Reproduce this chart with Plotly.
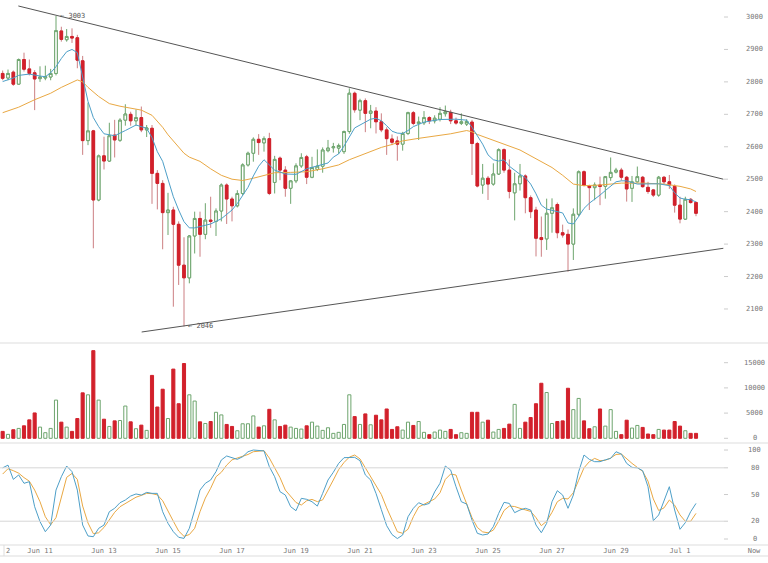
import pandas as pd
import plotly.graph_objects as go

# ---------------- data (4-hour candles, BTC, Jun 9 20:00 -> Jul 1 12:00, 2017) ----------------
START = "2017-06-09 20:00"
STEP_HOURS = 4

opens = [2826, 2812, 2830, 2793, 2869, 2840, 2828, 2810, 2812, 2815,
         2826, 2957, 2930, 2940, 2936, 2865, 2619, 2649, 2436, 2572,
         2556, 2636, 2620, 2682, 2700, 2680, 2690, 2652, 2657, 2518,
         2487, 2397, 2405, 2361, 2235, 2196, 2325, 2379, 2330, 2374,
         2370, 2402, 2482, 2439, 2418, 2456, 2544, 2580, 2623, 2612,
         2625, 2490, 2565, 2528, 2472, 2495, 2541, 2569, 2506, 2530,
         2540, 2588, 2597, 2596, 2585, 2647, 2765, 2713, 2742, 2703,
         2710, 2677, 2652, 2624, 2618, 2608, 2641, 2705, 2672, 2674,
         2690, 2680, 2685, 2702, 2706, 2680, 2672, 2670, 2676, 2610,
         2482, 2503, 2485, 2516, 2591, 2528, 2458, 2486, 2510, 2443,
         2405, 2320, 2316, 2395, 2422, 2335, 2330, 2300, 2392, 2523,
         2479, 2474, 2482, 2478, 2505, 2522, 2528, 2506, 2472, 2492,
         2506, 2475, 2467, 2451, 2506, 2492, 2478, 2420, 2377, 2438,
         2428]
highs = [2835, 2838, 2835, 2872, 2890, 2869, 2836, 2848, 2850, 2840,
         3003, 2970, 2963, 2965, 2945, 2880, 2736, 2652, 2576, 2631,
         2674, 2683, 2688, 2731, 2708, 2715, 2724, 2667, 2667, 2528,
         2497, 2458, 2415, 2370, 2321, 2328, 2400, 2400, 2426, 2446,
         2410, 2487, 2487, 2446, 2466, 2549, 2585, 2629, 2639, 2632,
         2643, 2572, 2570, 2540, 2497, 2549, 2580, 2575, 2569, 2592,
         2598, 2621, 2612, 2610, 2650, 2780, 2770, 2748, 2749, 2729,
         2722, 2703, 2660, 2638, 2632, 2646, 2708, 2710, 2693, 2710,
         2694, 2697, 2722, 2727, 2714, 2690, 2703, 2685, 2683, 2615,
         2547, 2510, 2549, 2595, 2595, 2561, 2520, 2547, 2515, 2450,
         2415, 2385, 2440, 2441, 2428, 2360, 2345, 2410, 2527, 2527,
         2483, 2490, 2508, 2510, 2567, 2535, 2535, 2510, 2510, 2539,
         2510, 2492, 2470, 2510, 2510, 2513, 2484, 2446, 2446, 2442,
         2432]
lows = [2805, 2805, 2788, 2791, 2832, 2820, 2713, 2800, 2805, 2805,
        2820, 2924, 2924, 2920, 2842, 2575, 2605, 2287, 2432, 2530,
        2553, 2567, 2615, 2665, 2665, 2665, 2645, 2630, 2424, 2407,
        2284, 2328, 2107, 2174, 2046, 2179, 2271, 2261, 2315, 2350,
        2325, 2370, 2362, 2370, 2413, 2451, 2539, 2554, 2575, 2585,
        2451, 2456, 2497, 2446, 2424, 2488, 2535, 2485, 2503, 2525,
        2520, 2583, 2582, 2578, 2578, 2640, 2705, 2682, 2645, 2657,
        2641, 2645, 2575, 2605, 2557, 2588, 2636, 2666, 2621, 2667,
        2670, 2672, 2678, 2693, 2670, 2668, 2667, 2664, 2513, 2475,
        2455, 2436, 2480, 2513, 2520, 2441, 2373, 2465, 2395, 2380,
        2262, 2261, 2282, 2335, 2318, 2320, 2215, 2251, 2385, 2478,
        2405, 2435, 2420, 2440, 2495, 2518, 2496, 2431, 2430, 2490,
        2474, 2455, 2445, 2446, 2485, 2470, 2397, 2364, 2375, 2425,
        2386]
closes = [2811, 2826, 2793, 2869, 2839, 2826, 2809, 2815, 2816, 2826,
          2958, 2931, 2940, 2935, 2867, 2619, 2649, 2436, 2572, 2556,
          2634, 2621, 2682, 2701, 2680, 2690, 2652, 2658, 2518, 2487,
          2397, 2405, 2361, 2235, 2196, 2325, 2379, 2330, 2374, 2370,
          2402, 2482, 2439, 2418, 2456, 2544, 2580, 2623, 2613, 2625,
          2456, 2561, 2528, 2472, 2495, 2541, 2567, 2506, 2536, 2540,
          2590, 2596, 2600, 2604, 2647, 2765, 2714, 2742, 2703, 2710,
          2677, 2652, 2625, 2614, 2608, 2641, 2705, 2672, 2676, 2690,
          2680, 2688, 2703, 2708, 2680, 2673, 2677, 2678, 2610, 2479,
          2503, 2485, 2516, 2591, 2528, 2462, 2486, 2510, 2443, 2400,
          2318, 2314, 2395, 2412, 2335, 2328, 2300, 2392, 2523, 2481,
          2474, 2482, 2478, 2508, 2521, 2528, 2506, 2470, 2492, 2508,
          2477, 2462, 2451, 2506, 2492, 2482, 2420, 2377, 2438, 2428,
          2395]
volumes = [1370, 780, 1700, 1960, 2480, 3660, 5030, 2220, 1110, 1960,
           7580, 3200, 2220, 1370, 3920, 9020, 8630, 17390, 7580, 3790,
           2350, 3460, 3530, 6400, 3270, 1900, 2610, 1570, 12480, 6210,
           9740, 3920, 13730, 6860, 14840, 8630, 7390, 3270, 2940, 3330,
           5160, 4640, 2750, 2350, 1500, 2880, 2880, 4440, 2220, 2480,
           5750, 3660, 2350, 2610, 2220, 1960, 1830, 2480, 3200, 2420,
           1570, 2090, 980, 1180, 2750, 8630, 4310, 2750, 4840, 2680,
           4580, 3660, 5820, 1760, 2290, 1630, 3200, 2550, 3330, 1180,
           720, 1240, 1630, 1370, 1760, 720, 1110, 980, 5160, 5160,
           3200, 3590, 1240, 1760, 1960, 2810, 6730, 1960, 3200, 4120,
           6860, 10920, 9080, 2940, 3330, 3460, 9930, 5690, 7910, 3460,
           1900, 2290, 5820, 2420, 5690, 1370, 720, 3590, 2030, 2550,
           2160, 850, 720, 1760, 1630, 1630, 3330, 2420, 1500, 980,
           980]

# short moving average (blue), read at candle numbers
ma_fast_idx = [1, 3, 4, 6, 8, 9, 10, 11, 12, 13, 14, 15, 16, 17, 18, 19, 20, 22, 24, 26,
               28, 29, 30, 31, 32, 33, 34, 35, 36, 37, 38, 40, 42, 44, 45, 46, 47, 48, 49, 50,
               51, 52, 54, 56, 58, 60, 62, 63, 64, 65, 66, 67, 68, 70, 71, 72, 73, 74, 75, 76,
               77, 78, 80, 83, 86, 88, 89, 90, 91, 92, 93, 94, 95, 96, 97, 98, 99, 100, 101, 102,
               103, 104, 105, 106, 107, 108, 109, 110, 111, 112, 113, 114, 115, 116, 117, 118, 120, 122, 124, 126,
               127, 128, 129, 130, 131]
ma_fast_val = [2801, 2812, 2820, 2824, 2818, 2816, 2828, 2847, 2872, 2893, 2900, 2890, 2815, 2740, 2690, 2662, 2640, 2634, 2650, 2667,
               2657, 2628, 2585, 2555, 2500, 2446, 2405, 2369, 2350, 2350, 2354, 2362, 2378, 2405, 2425, 2450, 2475, 2510, 2540, 2560,
               2545, 2528, 2516, 2515, 2532, 2540, 2550, 2568, 2578, 2602, 2628, 2658, 2667, 2685, 2688, 2680, 2665, 2648, 2642, 2641,
               2650, 2662, 2676, 2684, 2685, 2682, 2660, 2635, 2608, 2575, 2560, 2556, 2560, 2540, 2526, 2515, 2505, 2485, 2455, 2420,
               2408, 2404, 2400, 2396, 2365, 2362, 2385, 2410, 2426, 2438, 2451, 2465, 2478, 2492, 2495, 2495, 2485, 2485, 2486, 2480,
               2458, 2442, 2438, 2437, 2430]

# long moving average (orange), read at candle numbers
ma_slow_idx = [1, 4, 7, 10, 12, 14, 15, 16, 17, 19, 21, 23, 25, 27, 29, 30, 31, 32, 33, 34,
               35, 36, 38, 40, 42, 44, 46, 48, 50, 52, 55, 58, 61, 64, 66, 68, 70, 72, 74, 76,
               79, 82, 85, 88, 89, 90, 92, 95, 98, 100, 102, 104, 106, 108, 110, 113, 117, 121, 125, 128,
               130, 131]
ma_slow_val = [2705, 2722, 2745, 2765, 2783, 2800, 2806, 2800, 2783, 2755, 2733, 2725, 2720, 2713, 2697, 2680, 2660, 2637, 2617, 2598,
               2580, 2568, 2555, 2532, 2512, 2500, 2496, 2503, 2512, 2520, 2521, 2523, 2532, 2544, 2560, 2573, 2585, 2598, 2607, 2618,
               2626, 2633, 2640, 2650, 2646, 2638, 2625, 2608, 2590, 2572, 2552, 2536, 2512, 2485, 2480, 2482, 2488, 2488, 2485, 2478,
               2470, 2462]

# stochastic oscillator, one value per candle
stoch_k = [80, 83, 67, 72, 62.6, 64.4, 36.3, 19.5, 8.2, 15.7,
           55, 70, 82, 75.7, 55, 15.7, 3.4, 2.6, 12, 15.7,
           30.7, 34.5, 40.8, 43.8, 48.3, 50.6, 49.4, 52.4, 51.3, 51.3,
           30.7, 17.6, 8.2, 1.9, 0.7, 12, 32.6, 55, 62.6, 66.3,
           75.7, 88.8, 93.3, 91.8, 89.5, 92.5, 98.1, 100, 99.3, 99,
           81.3, 70, 53.2, 49.4, 36.3, 31.8, 45.7, 44.6, 41.9, 37,
           51.3, 66.3, 75, 85, 91.4, 91.4, 91.8, 88, 72, 66.3,
           51.3, 33, 15, 5, 0.5, 4.5, 25, 34.5, 40.8, 38.2,
           40, 53, 62.6, 82, 77.5, 58.8, 41.9, 39.3, 21.3, 6.4,
           4.5, 5.6, 13.9, 28.8, 41.2, 40, 29.6, 32.6, 34.5, 32.6,
           15.7, 7.1, 17.6, 41.9, 54.3, 49.4, 34.5, 49.4, 75.7, 94.4,
           89.5, 86.9, 86.9, 89, 90.6, 98.1, 95.5, 85, 80.5, 80,
           76.8, 58.8, 20.6, 27, 41.9, 58.8, 32.6, 10.9, 18.4, 30.7,
           40]
stoch_d = [73, 79, 76.8, 74, 69, 65, 55, 41.9, 25, 16,
           24, 46, 69.3, 73.7, 67, 37, 18, 6, 7, 13,
           22, 30, 36.3, 40, 44, 47, 49, 51.3, 51, 49.6,
           43, 31, 20, 9, 3, 5, 12, 30.7, 46, 57,
           70, 75, 83, 89, 91, 93, 95, 98.1, 99, 99.3,
           91, 80, 69, 55, 48, 41, 38.2, 43, 44.5, 42,
           44, 56, 66.3, 78, 86, 92, 94.4, 90, 80, 70,
           61, 50, 35, 22, 8.2, 6.4, 11, 25, 36, 39,
           41.9, 45, 52, 67, 73, 71.9, 55, 40, 24, 13,
           8, 7, 10, 20, 32, 37, 36.5, 34.5, 33, 31,
           24, 15, 20, 30, 41.9, 45.7, 45, 52, 66, 80,
           86.9, 90.6, 88, 88.5, 91, 95, 95.5, 90, 85, 80.5,
           76, 65, 45, 32, 35, 43.8, 38, 27, 19.9, 19.9,
           28.8]

# hand-drawn triangle trend lines
trend_upper_t = ["2017-06-10 07:45", "2017-07-02 08:30"]
trend_upper_p = [3034, 2500]
trend_lower_t = ["2017-06-14 04:15", "2017-07-02 08:30"]
trend_lower_p = [2029, 2287]

# extreme labels
extreme_idx = [11, 35]
extreme_val = [3003, 2046]

price_ticks = [2100, 2200, 2300, 2400, 2500, 2600, 2700, 2800, 2900, 3000]
volume_ticks = [0, 5000, 10000, 15000]
stoch_ticks = [0, 20, 50, 80, 100]
stoch_levels = [20, 80]
date_ticks = ["2017-06-11 00:00", "2017-06-13 00:00", "2017-06-15 00:00", "2017-06-17 00:00",
              "2017-06-19 00:00", "2017-06-21 00:00", "2017-06-23 00:00", "2017-06-25 00:00",
              "2017-06-27 00:00", "2017-06-29 00:00", "2017-07-01 00:00", "2017-07-03 07:30"]
date_labels = ["Jun 11", "Jun 13", "Jun 15", "Jun 17", "Jun 19", "Jun 21",
               "Jun 23", "Jun 25", "Jun 27", "Jun 29", "Jul 1", "Now"]

# ---------------- figure ----------------
RED = "#d2202b"
RED_WICK = "#cc7f82"
GREEN = "#6ea56e"
BLUE = "#4d9fc8"
ORANGE = "#e9a843"
LABEL = "#777777"
SEP = "#dddddd"
FONT = "DejaVu Sans Mono"

W, H = 768, 563
t0 = pd.Timestamp(START)
step = pd.Timedelta(hours=STEP_HOURS)


def when(i):
    return t0 + (i - 1) * step


def ts(s):
    return pd.Timestamp(s)


n = len(closes)
dates = [when(i) for i in range(1, n + 1)]
up = [c >= o for o, c in zip(opens, closes)]
body_top = [max(o, c) for o, c in zip(opens, closes)]
body_bot = [min(o, c) for o, c in zip(opens, closes)]


def py(px):
    return 1 - px / H


fig = go.Figure()

# wicks (full range) in softer colours
fig.add_trace(go.Candlestick(
    x=dates, open=opens, high=highs, low=lows, close=closes,
    increasing=dict(line=dict(color=GREEN, width=1), fillcolor="white"),
    decreasing=dict(line=dict(color=RED_WICK, width=1), fillcolor=RED),
    whiskerwidth=0, xaxis="x", yaxis="y", showlegend=False, hoverinfo="skip"))
# bodies on top
fig.add_trace(go.Candlestick(
    x=dates, open=opens, high=body_top, low=body_bot, close=closes,
    increasing=dict(line=dict(color=GREEN, width=1), fillcolor="white"),
    decreasing=dict(line=dict(color=RED, width=1), fillcolor=RED),
    whiskerwidth=0, xaxis="x", yaxis="y", showlegend=False))

fig.add_trace(go.Scatter(x=[when(i) for i in ma_slow_idx], y=ma_slow_val, mode="lines",
                         line=dict(color=ORANGE, width=1), xaxis="x", yaxis="y", showlegend=False))
fig.add_trace(go.Scatter(x=[when(i) for i in ma_fast_idx], y=ma_fast_val, mode="lines",
                         line=dict(color=BLUE, width=1), xaxis="x", yaxis="y", showlegend=False))

fig.add_trace(go.Scatter(x=[ts(s) for s in trend_upper_t], y=trend_upper_p, mode="lines",
                         line=dict(color="#555555", width=1), xaxis="x", yaxis="y", showlegend=False))
fig.add_trace(go.Scatter(x=[ts(s) for s in trend_lower_t], y=trend_lower_p, mode="lines",
                         line=dict(color="#555555", width=1), xaxis="x", yaxis="y", showlegend=False))

fig.add_trace(go.Bar(
    x=dates, y=volumes,
    marker=dict(color=["white" if u else RED for u in up],
                line=dict(color=[GREEN if u else RED for u in up], width=1)),
    xaxis="x", yaxis="y2", showlegend=False))

fig.add_trace(go.Scatter(x=dates, y=stoch_d, mode="lines", line=dict(color=ORANGE, width=1),
                         xaxis="x", yaxis="y3", showlegend=False))
fig.add_trace(go.Scatter(x=dates, y=stoch_k, mode="lines", line=dict(color=BLUE, width=1),
                         xaxis="x", yaxis="y3", showlegend=False))

annotations = []
for i, v in zip(extreme_idx, extreme_val):
    annotations.append(dict(x=when(i), y=v, xref="x", yref="y", text="\u2190 " + str(v),
                            showarrow=False, xanchor="left", yanchor="middle", xshift=2,
                            font=dict(family=FONT, size=7, color="#555555")))

label_x = 754.5 / W
dash_x0, dash_x1 = 724 / W, 728 / W
shapes = []
for ticks, yr in ((price_ticks, "y"), (volume_ticks, "y2"), (stoch_ticks, "y3")):
    for v in ticks:
        annotations.append(dict(x=label_x, y=v, xref="paper", yref=yr, text=str(v),
                                showarrow=False, xanchor="center", yanchor="middle",
                                font=dict(family=FONT, size=7, color=LABEL)))
        shapes.append(dict(type="line", xref="paper", yref=yr, x0=dash_x0, x1=dash_x1,
                           y0=v, y1=v, line=dict(color="#cccccc", width=1)))

for v in stoch_levels:
    shapes.append(dict(type="line", xref="paper", yref="y3", x0=0, x1=724 / W, y0=v, y1=v,
                       line=dict(color="#d6d6d6", width=1)))

for px in (343, 443, 545, 556):
    shapes.append(dict(type="line", xref="paper", yref="paper", x0=0, x1=1,
                       y0=py(px), y1=py(px), line=dict(color=SEP, width=1)))
shapes.append(dict(type="line", xref="paper", yref="paper", x0=4 / W, x1=4 / W,
                   y0=py(556), y1=py(545), line=dict(color=SEP, width=1)))
annotations.append(dict(x=8 / W, y=py(551), xref="paper", yref="paper", text="2",
                        showarrow=False, xanchor="center", yanchor="middle",
                        font=dict(family=FONT, size=7, color=LABEL)))

x_left = pd.Timestamp("2017-06-11") - pd.Timedelta(hours=30)
x_right = pd.Timestamp("2017-06-11") + pd.Timedelta(hours=546)

fig.update_layout(
    width=W, height=H,
    margin=dict(l=0, r=0, t=0, b=0),
    paper_bgcolor="white", plot_bgcolor="white",
    font=dict(family=FONT, size=7, color=LABEL),
    bargap=0.42,
    showlegend=False,
    xaxis=dict(domain=[0, 1], anchor="y3", type="date", range=[x_left, x_right],
               rangeslider=dict(visible=False), showgrid=False, zeroline=False,
               tickvals=[ts(s) for s in date_ticks], ticktext=date_labels,
               ticks="", showline=False, tickfont=dict(family=FONT, size=7, color=LABEL),
               ticklabelstandoff=0),
    yaxis=dict(domain=[py(343), 1], range=[1995.1, 3052.4], showgrid=False, zeroline=False,
               showticklabels=False, ticks=""),
    yaxis2=dict(domain=[py(443), py(343)], range=[-933, 18909], showgrid=False, zeroline=False,
                showticklabels=False, ticks="", anchor="x"),
    yaxis3=dict(domain=[py(545), py(443)], range=[-6.74, 107.9], showgrid=False, zeroline=False,
                showticklabels=False, ticks="", anchor="x"),
    annotations=annotations,
    shapes=shapes,
)

fig.write_html("out.html")
